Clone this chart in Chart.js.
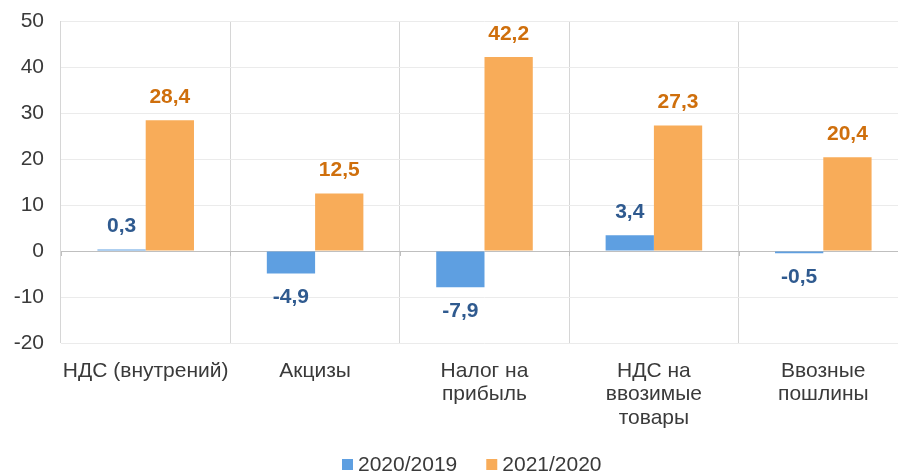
<!DOCTYPE html>
<html>
<head>
<meta charset="utf-8">
<script src="https://cdn.jsdelivr.net/npm/chart.js@4/dist/chart.umd.min.js"></script>
<style>
  html, body { margin: 0; padding: 0; background: #fff; overflow: hidden; }
  /* холст чуть шире окна: правая граница области графика уходит за край, как на оригинале */
  #wrap { width: 898px; height: 476px; overflow: hidden; }
</style>
</head>
<body>
<div id="wrap"><canvas id="taxChart" width="908" height="476"></canvas></div>
<script>
  // Данные
  const categories = [
    "НДС (внутрений)",
    "Акцизы",
    ["Налог на", "прибыль"],
    ["НДС на", "ввозимые", "товары"],
    ["Ввозные", "пошлины"]
  ];
  const series2020 = [0.3, -4.9, -7.9, 3.4, -0.5];
  const series2021 = [28.4, 12.5, 42.2, 27.3, 20.4];
  const seriesNames = ["2020/2019", "2021/2020"];
  const yTicks = [-20, -10, 0, 10, 20, 30, 40, 50];

  const COLORS = {
    blue: "#5e9fe1",
    orange: "#f8ac59",
    blueLabel: "#2f5a8f",
    orangeLabel: "#cf6f0c",
    text: "#3a3a3a"
  };
  const FONT = "Arial, 'Liberation Sans', sans-serif";

  // Подписи значений над/под столбцами
  const valueLabels = {
    id: "valueLabels",
    afterDatasetsDraw(chart) {
      const { ctx } = chart;
      ctx.save();
      ctx.font = `bold 21px ${FONT}`;
      ctx.textAlign = "center";
      ctx.textBaseline = "middle";
      chart.data.datasets.forEach((ds, i) => {
        const meta = chart.getDatasetMeta(i);
        ctx.fillStyle = i === 0 ? COLORS.blueLabel : COLORS.orangeLabel;
        meta.data.forEach((bar, j) => {
          const v = ds.data[j];
          const y = v >= 0 ? bar.y - 23 : bar.y + 24;
          ctx.fillText(v.toFixed(1).replace(".", ","), bar.x, y);
        });
      });
      ctx.restore();
    }
  };

  // Засечки на нулевой линии + легенда снизу
  const extras = {
    id: "extras",
    afterDraw(chart) {
      const { ctx, scales: { x, y } } = chart;
      const y0 = y.getPixelForValue(0);
      ctx.save();
      ctx.strokeStyle = "#bfbfbf";
      ctx.lineWidth = 1;
      for (let i = 0; i <= categories.length; i++) {
        const px = Math.round(x.left + (x.width / categories.length) * i) + 0.5;
        ctx.beginPath();
        ctx.moveTo(px, y0);
        ctx.lineTo(px, y0 + 5);
        ctx.stroke();
      }

      // легенда
      ctx.font = `21px ${FONT}`;
      ctx.textBaseline = "middle";
      ctx.textAlign = "left";
      const legendY = 464;
      let lx = 342;
      chart.data.datasets.forEach((ds) => {
        ctx.fillStyle = ds.backgroundColor;
        ctx.fillRect(lx, legendY - 5, 11, 11);
        lx += 16;
        ctx.fillStyle = COLORS.text;
        ctx.fillText(ds.label, lx, legendY + 1);
        lx += ctx.measureText(ds.label).width + 29;
      });
      ctx.restore();
    }
  };

  new Chart(document.getElementById("taxChart"), {
    type: "bar",
    data: {
      labels: categories,
      datasets: [
        {
          label: seriesNames[0],
          data: series2020,
          backgroundColor: COLORS.blue,
          categoryPercentage: 0.57,
          barPercentage: 1.0
        },
        {
          label: seriesNames[1],
          data: series2021,
          backgroundColor: COLORS.orange,
          categoryPercentage: 0.57,
          barPercentage: 1.0
        }
      ]
    },
    options: {
      responsive: false,
      animation: false,
      layout: {
        padding: { top: 21, right: 0, bottom: 0, left: 0 }
      },
      plugins: {
        legend: { display: false },
        tooltip: { enabled: false }
      },
      scales: {
        x: {
          offset: true,
          grid: {
            offset: true,
            color: "#d6d6d6",
            drawTicks: false
          },
          border: { display: false },
          ticks: {
            color: COLORS.text,
            padding: 17,
            maxRotation: 0,
            autoSkip: false,
            font: { family: FONT, size: 21, lineHeight: 1.1 }
          },
          afterFit: (scale) => { scale.height = 133; }
        },
        y: {
          min: -20,
          max: 50,
          afterBuildTicks: (scale) => {
            scale.ticks = yTicks.map(v => ({ value: v }));
          },
          grid: {
            color: (c) => c.tick && c.tick.value === 0 ? "#bfbfbf" : "#ebebeb",
            drawTicks: false
          },
          border: { display: false },
          ticks: {
            color: COLORS.text,
            padding: 17,
            font: { family: FONT, size: 21 }
          },
          afterFit: (scale) => {
            scale.width = 61;
            // не даём отступу подписей сдвигать верх области графика
            scale.paddingTop = 0;
            scale.paddingBottom = 0;
          }
        }
      }
    },
    plugins: [valueLabels, extras]
  });
</script>
</body>
</html>
